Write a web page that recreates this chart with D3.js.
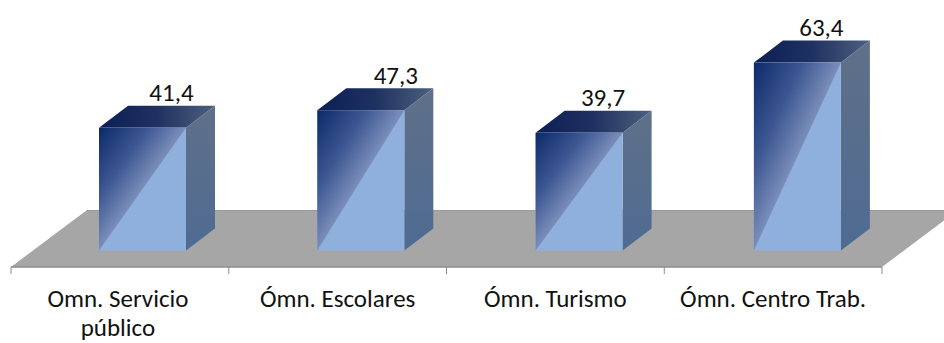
<!DOCTYPE html>
<html><head><meta charset="utf-8">
<script src="https://d3js.org/d3.v7.min.js"></script>
<style>html,body{margin:0;padding:0;background:#fff;overflow:hidden}text{font-family:Carlito,Lato,sans-serif;fill:#111}</style>
</head><body><svg id="c" width="944" height="343"></svg>
<script>
const categories = ["Omn. Servicio público", "Ómn. Escolares", "Ómn. Turismo", "Ómn. Centro Trab."];
const values = [41.4, 47.3, 39.7, 63.4];
const valueLabels = ["41,4", "47,3", "39,7", "63,4"];
const labelShifts = [29, 35, 24, 24];

const svg = d3.select("#c");
const x = d3.scaleBand().domain(categories).range([11, 882]);
const barX = d3.scaleBand().domain(categories).range([99, 99 + 4 * 218.3]);
const y = d3.scaleLinear().domain([0, 70]).range([250.5, 43]);
const barW = 87, depthX = 29, depthY = 22;
const floorFront = 267, floorBack = 210, floorDx = 76;

const defs = svg.append("defs");
function grad(id, x1, y1, x2, y2, stops) {
  const g = defs.append("linearGradient").attr("id", id).attr("x1", x1).attr("y1", y1).attr("x2", x2).attr("y2", y2);
  stops.forEach(s => g.append("stop").attr("offset", s[0]).attr("stop-color", s[1]));
}
grad("fr", "0", "0", "0.5", "0.5", [[0, "#0d2968"], [0.55, "#3c5692"], [1, "#7a8eb9"]]);
grad("tp", "0", "0", "1", "0", [[0, "#0c1f55"], [0.5, "#1f3160"], [1, "#4d607f"]]);
grad("sd", "0", "0", "0", "1", [[0, "#5f7088"], [1, "#4f6b93"]]);

const line = d3.line();
svg.append("path").attr("fill", "#a6a6a6")
  .attr("d", line([[11, floorFront], [11 + floorDx, floorBack], [882 + floorDx, floorBack], [882, floorFront]]) + "Z");
svg.append("path").attr("stroke", "#999").attr("fill", "none")
  .attr("d", line([[11 + floorDx, floorBack + .5], [882 + floorDx, floorBack + .5]]));

const axis = d3.axisBottom(x).tickSize(0).tickPadding(0);
const ag = svg.append("g").attr("transform", `translate(0,${floorFront})`).call(axis);
ag.select(".domain").attr("stroke", "#8c8c8c").attr("stroke-width", 1.5).attr("d", "M11,0H882");
ag.selectAll(".tick text").each(function (d, i) {
  const t = d3.select(this).text(null).attr("y", 0).attr("dy", null)
    .style("font-size", "25px").style("font-family", "Carlito,Lato,sans-serif").attr("fill", "#111");
  const lines = d === categories[0] ? ["Omn. Servicio", "público"] : [d];
  lines.forEach((l, k) => t.append("tspan").attr("x", i === 0 ? -2 : 0).attr("y", 40 + k * 29).text(l));
});
svg.append("g").selectAll("line").data(d3.range(categories.length + 1)).join("line")
  .attr("x1", i => 11 + i * x.step()).attr("x2", i => 11 + i * x.step())
  .attr("y1", floorFront).attr("y2", floorFront + 7).attr("stroke", "#8c8c8c");

const bars = svg.append("g").selectAll("g").data(categories).join("g");
bars.each(function (c, i) {
  const g = d3.select(this);
  const x0 = barX(c), x1 = x0 + barW, t = y(values[i]), b = y(0);
  g.append("path").attr("fill", "url(#sd)")
    .attr("d", line([[x1, t], [x1 + depthX, t - depthY], [x1 + depthX, b - depthY], [x1, b]]) + "Z");
  g.append("path").attr("fill", "url(#tp)")
    .attr("d", line([[x0, t], [x0 + depthX, t - depthY], [x1 + depthX, t - depthY], [x1, t]]) + "Z");
  g.append("rect").attr("x", x0).attr("y", t).attr("width", barW).attr("height", b - t).attr("fill", "#8fb0dc");
  g.append("path").attr("fill", "url(#fr)")
    .attr("d", line([[x0, t], [x1, t], [x0, b]]) + "Z");
  g.append("text").attr("x", x0 + barW / 2 + labelShifts[i]).attr("y", t - depthY - 4.5)
    .attr("text-anchor", "middle").style("font-size", "25px").text(valueLabels[i]);
});
</script></body></html>
